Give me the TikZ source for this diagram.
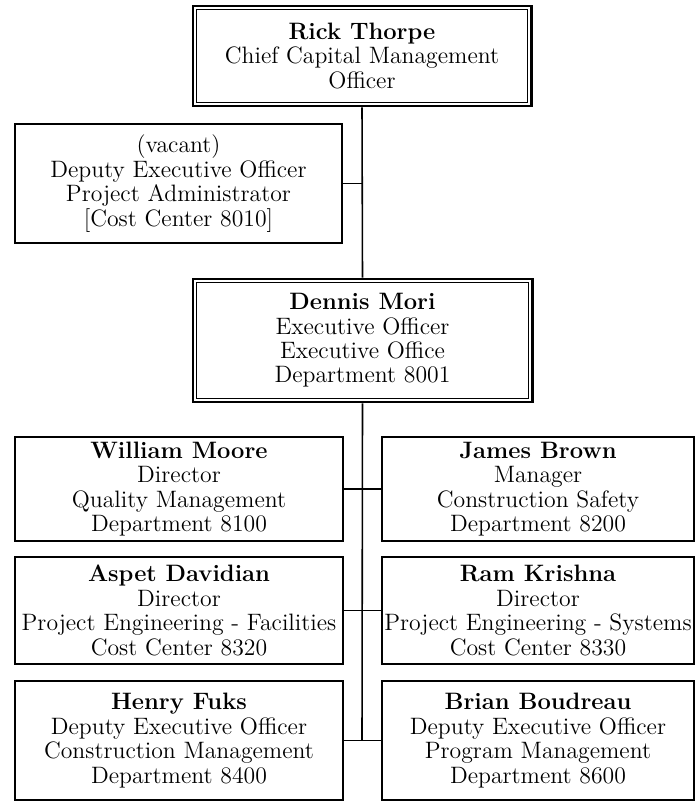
\documentclass[tikz,border=0pt]{standalone}
\usepackage{tikz}
\usetikzlibrary{calc}

\tikzset{
  unitbox/.style={draw, line width=0.9pt, inner sep=0pt, align=center,
    font=\fontsize{13.5}{13.9}\selectfont},
  headbox/.style={unitbox, line width=1.7pt},
  link/.style={line width=0.9pt}
}

\begin{document}
\begin{tikzpicture}
    % Fix page size
    \useasboundingbox (0,0) rectangle (13.92,-16.2);

    % Define box sizes
    \def\lw{6.56cm}
    \def\rw{6.24cm}

    % Draw top boxes
    \node[headbox, minimum width=6.76cm, minimum height=2cm] (rick) at (7.24,-1.12)
        {\textbf{Rick Thorpe}\\Chief Capital Management\\Officer};
    \node[unitbox, minimum width=6.54cm, minimum height=2.38cm] (vacant) at (3.57,-3.67)
        {(vacant)\\Deputy Executive Officer\\Project Administrator\\{[Cost Center 8010]}};
    \node[headbox, minimum width=6.78cm, minimum height=2.46cm] (mori) at (7.25,-6.81)
        {\textbf{Dennis Mori}\\Executive Officer\\Executive Office\\Department 8001};

    % Draw department boxes
    \node[unitbox, minimum width=\lw, minimum height=2.08cm] (moore) at (3.58,-9.78)
        {\textbf{William Moore}\\Director\\Quality Management\\Department 8100};
    \node[unitbox, minimum width=\rw, minimum height=2.08cm] (brown) at (10.76,-9.78)
        {\textbf{James Brown}\\Manager\\Construction Safety\\Department 8200};
    \node[unitbox, minimum width=\lw, minimum height=2.14cm] (davidian) at (3.58,-12.21)
        {\textbf{Aspet Davidian}\\Director\\Project Engineering - Facilities\\Cost Center 8320};
    \node[unitbox, minimum width=\rw, minimum height=2.14cm] (krishna) at (10.76,-12.21)
        {\textbf{Ram Krishna}\\Director\\Project Engineering - Systems\\Cost Center 8330};
    \node[unitbox, minimum width=\lw, minimum height=2.38cm] (fuks) at (3.58,-14.81)
        {\textbf{Henry Fuks}\\Deputy Executive Officer\\Construction Management\\Department 8400};
    \node[unitbox, minimum width=\rw, minimum height=2.38cm] (boudreau) at (10.76,-14.81)
        {\textbf{Brian Boudreau}\\Deputy Executive Officer\\Program Management\\Department 8600};

    % Inner line of the double frames
    \foreach \n in {rick, mori}
        \draw[line width=0.5pt] ([xshift=2.6pt,yshift=-2.6pt]\n.north west) rectangle ([xshift=-2.6pt,yshift=2.6pt]\n.south east);

    % Draw trunk
    \coordinate (bottom) at (fuks.east -| rick.south);
    \draw[link] (rick.south) -- (mori.north);
    \draw[link] (mori.south) -- (bottom);
    \draw[link] (vacant.east) -- (vacant.east -| rick.south);

    % Draw branches
    \foreach \a/\b in {moore/brown, davidian/krishna, fuks/boudreau}
        \draw[link] (\a.east) -- (\b.west);
\end{tikzpicture}
\end{document}
